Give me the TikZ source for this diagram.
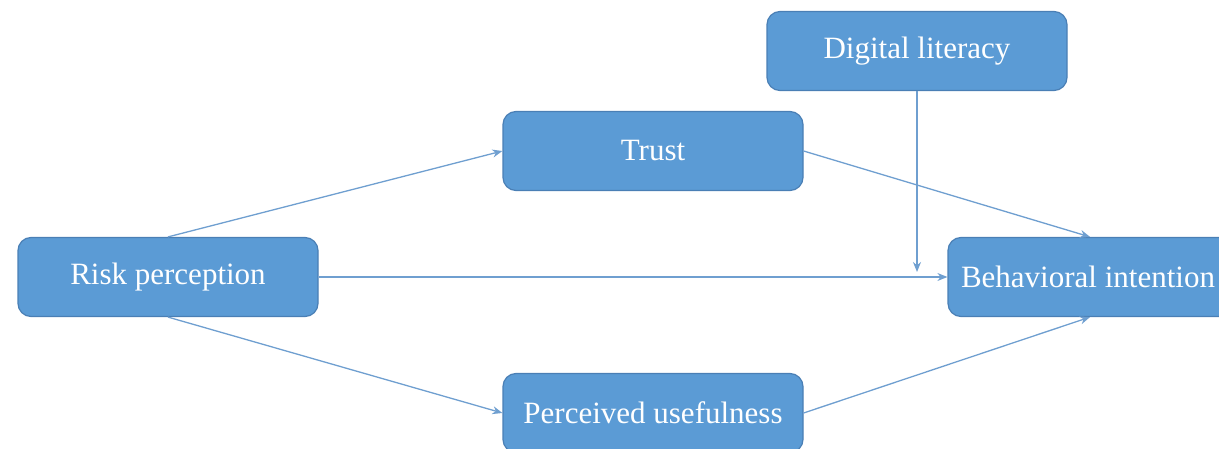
\documentclass[tikz,border=0pt]{standalone}
\usepackage{fontspec}
\setmainfont{Liberation Serif}
\usetikzlibrary{arrows.meta}
\definecolor{boxblue}{HTML}{5B9BD5}
\definecolor{boxedge}{HTML}{4A7FB5}
\definecolor{linkblue}{HTML}{6F9FD0}
\tikzset{
    factor/.style={draw=boxedge,line width=1.2pt,fill=boxblue,rounded corners=13pt,
        minimum width=300pt,minimum height=79pt,text=white,
        font=\fontsize{31}{36}\selectfont},
    link/.style={draw=linkblue,line width=1.3pt,-{Stealth[length=10pt,width=8pt]}}
}
\begin{document}
\begin{tikzpicture}[x=1pt,y=-1pt]
    \useasboundingbox (0,0) rectangle (1219,449);
    \node[factor] (risk) at (168,277) {Risk perception};
    \node[factor] (trust) at (653,151) {Trust};
    \node[factor] (digital) at (917,51) {Digital literacy};
    \node[factor,text width=274pt,align=flush left] (intent) at (1098,277) {Behavioral intention};
    \node[factor] (useful) at (653,413) {Perceived usefulness};
    \draw[link] (risk.north) -- (trust.west);
    \draw[link] (risk.east) -- (intent.west);
    \draw[link] (risk.south) -- (useful.west);
    \draw[link] (trust.east) -- ([xshift=-8pt]intent.north);
    \draw[link] (useful.east) -- ([xshift=-8pt]intent.south);
    \coordinate (meet) at (digital.south |- risk.east);
    \draw[link] (digital.south) -- ([yshift=5pt]meet); %moderator
\end{tikzpicture}
\end{document}
